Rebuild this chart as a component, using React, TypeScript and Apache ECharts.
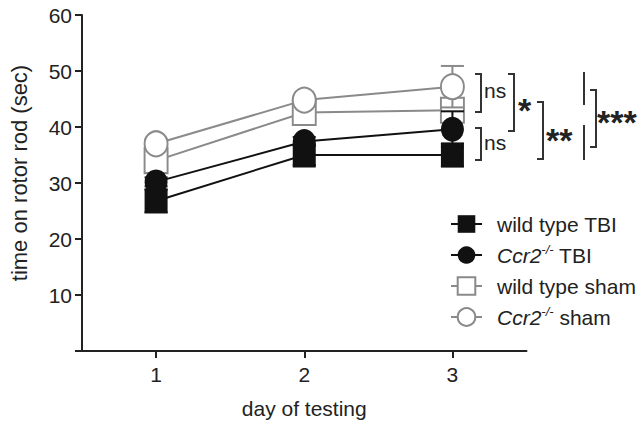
import React, { useEffect, useRef } from "react";
import * as echarts from "echarts";

// ---- data ----
const days = ["1", "2", "3"];
const yMin = 0;
const yMax = 60;
const yStep = 10;

const wtTbi = [26.8, 35.0, 35.0];
const wtTbiSem = [2.0, 1.8, 2.0];
const ccr2Tbi = [30.2, 37.4, 39.6];
const ccr2TbiSem = [0.8, 0.8, 3.2];
const wtSham = [34.0, 42.6, 43.0];
const wtShamSem = [1.5, 1.6, 1.8];
const ccr2Sham = [37.0, 44.8, 47.2];
const ccr2ShamSem = [0.8, 0.8, 3.7];

const seriesNames = ["wild type TBI", "Ccr2 TBI", "wild type sham", "Ccr2 sham"];
const sigLabels = ["ns", "ns", "*", "**", "***"];

const FONT = "'Liberation Sans', Arial, Helvetica, sans-serif";
const BLACK = "#111";
const GRAY = "#8a8a8a";
const INK = "#222";

function errData(mean: number[], sem: number[]) {
  return mean.map((m, i) => [i, m - sem[i], m + sem[i]]);
}

function errSeries(name: string, mean: number[], sem: number[], color: string, z: number) {
  return {
    name,
    type: "custom",
    z,
    silent: true,
    encode: { x: 0, y: [1, 2] },
    data: errData(mean, sem),
    renderItem: (params: any, api: any) => {
      const x = api.value(0);
      const top = api.coord([x, api.value(2)]);
      const bot = api.coord([x, api.value(1)]);
      const w = 11.5;
      const style = { stroke: color, lineWidth: 2 };
      return {
        type: "group",
        children: [
          { type: "line", shape: { x1: top[0], y1: top[1], x2: bot[0], y2: bot[1] }, style },
          { type: "line", shape: { x1: top[0] - w, y1: top[1], x2: top[0] + w, y2: top[1] }, style },
          { type: "line", shape: { x1: bot[0] - w, y1: bot[1], x2: bot[0] + w, y2: bot[1] }, style },
        ],
      };
    },
  };
}

function lineSeries(name: string, data: number[], symbol: string, filled: boolean, z: number) {
  const color = filled ? BLACK : GRAY;
  return {
    name,
    type: "line",
    z,
    data,
    symbol,
    symbolSize: [23, 25],
    showAllSymbol: true,
    silent: true,
    lineStyle: { color, width: 2 },
    itemStyle: filled
      ? { color: BLACK, borderColor: BLACK, borderWidth: 0 }
      : { color: "#fff", borderColor: GRAY, borderWidth: 2 },
    emphasis: { disabled: true },
  };
}

function bracket(pts: number[][]) {
  return {
    type: "polyline",
    shape: { points: pts },
    style: { stroke: "#333", lineWidth: 2, fill: null },
    silent: true,
  };
}

function label(text: string, x: number, y: number, size: number, bold: boolean) {
  return {
    type: "text",
    x,
    y,
    style: {
      text,
      fill: INK,
      font: `${bold ? "bold " : ""}${size}px ${FONT}`,
      textAlign: "left",
      textVerticalAlign: "middle",
    },
    silent: true,
  };
}

export default function App() {
  const ref = useRef<HTMLDivElement>(null);

  useEffect(() => {
    if (!ref.current) return;
    const chart = echarts.init(ref.current, undefined, { renderer: "svg" });
    const option: any = {
      animation: false,
      backgroundColor: "#fff",
      textStyle: { fontFamily: FONT },
      grid: { left: 81, right: 115.5, top: 15, bottom: 72, containLabel: false },
      xAxis: {
        type: "category",
        data: days,
        boundaryGap: true,
        name: "day of testing",
        nameLocation: "middle",
        nameGap: 47,
        nameTextStyle: { fontSize: 21, color: INK, fontFamily: FONT },
        axisLine: { show: true, lineStyle: { color: INK, width: 2 } },
        axisTick: { show: true, alignWithLabel: true, length: 7, lineStyle: { color: INK, width: 2 } },
        axisLabel: { fontSize: 21, color: INK, margin: 13, fontFamily: FONT },
        splitLine: { show: false },
      },
      yAxis: {
        type: "value",
        min: yMin,
        max: yMax,
        interval: yStep,
        name: "time on rotor rod (sec)",
        nameLocation: "middle",
        nameGap: 52,
        nameTextStyle: { fontSize: 22, color: INK, fontFamily: FONT, padding: [0, 0, 0, 20] },
        axisLine: { show: true, lineStyle: { color: INK, width: 2 } },
        axisTick: { show: true, length: 7, lineStyle: { color: INK, width: 2 } },
        axisLabel: {
          fontSize: 21,
          color: INK,
          margin: 10,
          fontFamily: FONT,
          formatter: (v: number) => (v === 0 ? "" : String(v)),
        },
        splitLine: { show: false },
      },
      legend: {
        data: seriesNames,
        orient: "vertical",
        left: 445,
        top: 207,
        itemWidth: 31,
        itemHeight: 22,
        itemGap: 7,
        selectedMode: false,
        formatter: (name: string) => {
          if (name.startsWith("Ccr2")) {
            return `{it|Ccr2}{sup|-/-}{n|${name.slice(4)}}`;
          }
          return `{n|${name}}`;
        },
        textStyle: {
          fontSize: 21,
          color: INK,
          fontFamily: FONT,
          lineHeight: 24,
          padding: [0, 0, 0, 10],
          rich: {
            it: { fontStyle: "italic", fontSize: 21, lineHeight: 24, color: INK, fontFamily: FONT },
            sup: { fontStyle: "italic", fontSize: 13, lineHeight: 13, verticalAlign: "top", color: INK, fontFamily: FONT },
            n: { fontSize: 21, lineHeight: 24, color: INK, fontFamily: FONT },
          },
        },
      },
      series: [
        errSeries("err wt sham", wtSham, wtShamSem, GRAY, 2),
        lineSeries(seriesNames[2], wtSham, "rect", false, 3),
        errSeries("err wt tbi", wtTbi, wtTbiSem, BLACK, 4),
        lineSeries(seriesNames[0], wtTbi, "rect", true, 5),
        errSeries("err ccr2 tbi", ccr2Tbi, ccr2TbiSem, BLACK, 6),
        lineSeries(seriesNames[1], ccr2Tbi, "circle", true, 7),
        errSeries("err ccr2 sham", ccr2Sham, ccr2ShamSem, GRAY, 8),
        lineSeries(seriesNames[3], ccr2Sham, "circle", false, 9),
      ],
      graphic: [
        bracket([[475, 74], [481, 74], [481, 112], [475, 112]]),
        bracket([[475, 128], [481, 128], [481, 160], [475, 160]]),
        bracket([[508, 74], [514, 74], [514, 131], [508, 131]]),
        bracket([[537, 102], [543, 102], [543, 159], [537, 159]]),
        bracket([[584, 72], [584, 105]]),
        bracket([[584, 125], [584, 160]]),
        bracket([[590, 90], [596, 90], [596, 147], [590, 147]]),
        label(sigLabels[0], 484, 90.5, 21, false),
        label(sigLabels[1], 484, 142.5, 21, false),
        label(sigLabels[2], 518, 109.5, 34, true),
        label(sigLabels[3], 546, 139.5, 34, true),
        label(sigLabels[4], 597, 122, 34, true),
      ],
    };
    chart.setOption(option);
    return () => chart.dispose();
  }, []);

  return (
    <div
      ref={ref}
      style={{ position: "fixed", left: 0, top: 0, width: 642, height: 424 }}
    />
  );
}
